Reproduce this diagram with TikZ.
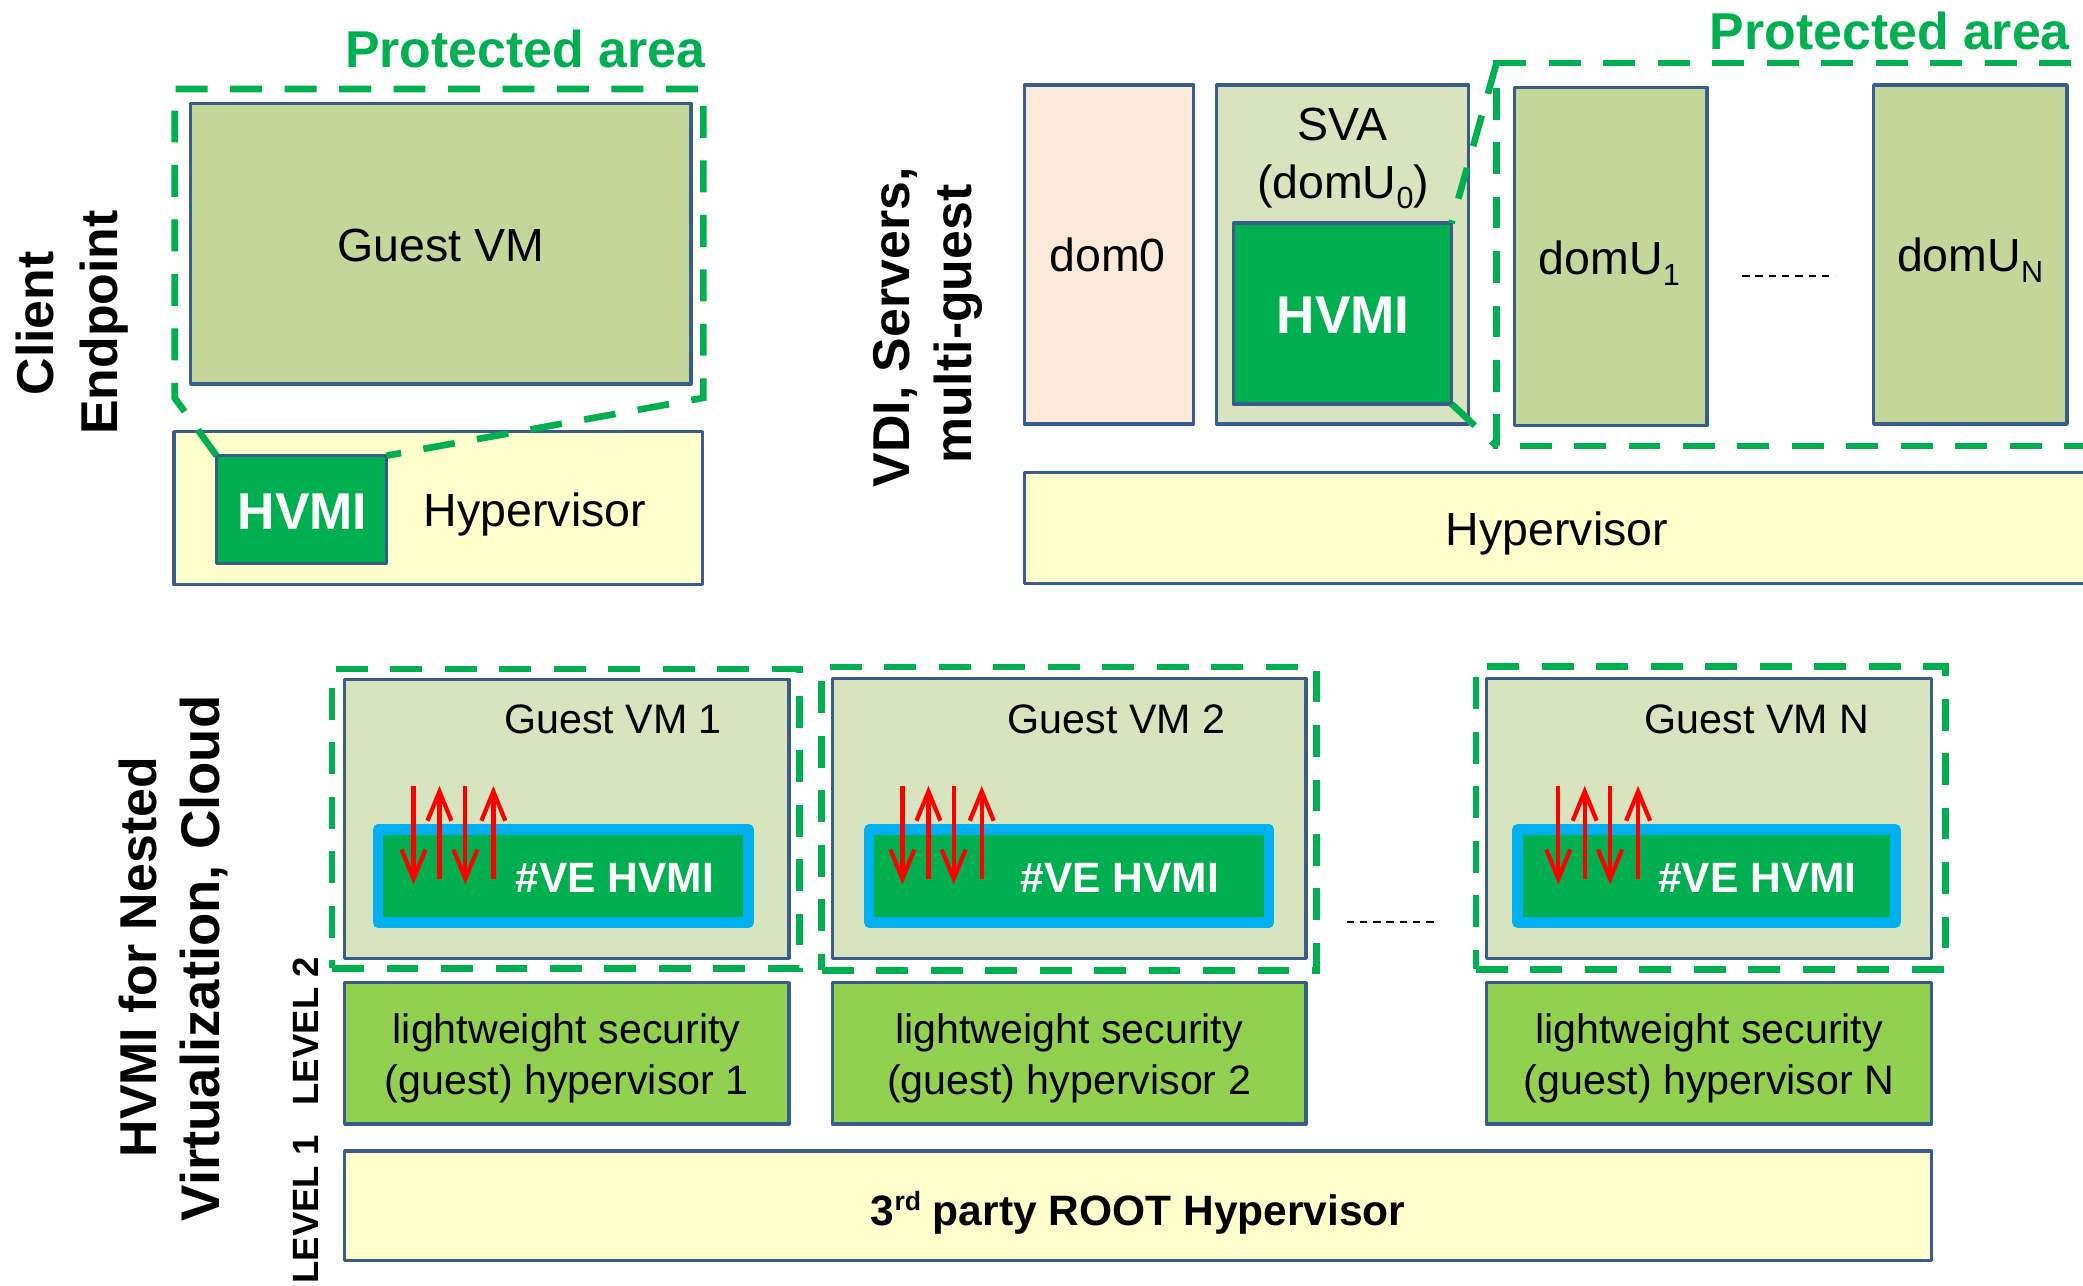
\documentclass[tikz,border=0pt]{standalone}
\usepackage{fontspec}
\setmainfont{Liberation Sans}
\usetikzlibrary{arrows.meta,fit}

\definecolor{edge}{HTML}{385D8A}
\definecolor{hvgreen}{HTML}{00B050}
\definecolor{olive}{HTML}{C4D79B}
\definecolor{palegreen}{HTML}{D7E4BD}
\definecolor{peach}{HTML}{FDE9D9}
\definecolor{cream}{HTML}{FFFFCC}
\definecolor{lime}{HTML}{92D050}
\definecolor{skyblue}{HTML}{00B0F0}

\newcommand\fsz[2]{\fontsize{#1}{#2}\selectfont}
\newcommand\lowsub[1]{\raisebox{-8pt}{\fsz{23}{23}#1}}
\newcommand\highsup[1]{\raisebox{11pt}{\fsz{20}{20}#1}}

% four red exchange arrows above a #VE HVMI bar: down, up, down, up
\newcommand\vearrows[5]{%
  \foreach \xx/\yy/\zz [count=\k] in {#2/591.6/665.8,#3/661.8/591.6,#4/591.6/665.8,#5/661.8/591.6}{%
    \coordinate (#1s\k) at (\xx,\yy);
    \coordinate (#1e\k) at (\xx,\zz);
    \draw[arr] (#1s\k) -- (#1e\k);
  }}

\begin{document}
\begin{tikzpicture}[x=1pt,y=-1pt,
  box/.style={draw=edge,line width=2.6pt,line join=round,inner sep=0pt,outer sep=0pt},
  prot/.style={draw=hvgreen,line width=5pt,dash pattern=on 24pt off 17pt,inner sep=0pt,outer sep=0pt},
  vebar/.style={draw=skyblue,fill=hvgreen,line width=7.9pt,line join=round,inner sep=0pt,outer sep=0pt},
  txt/.style={inner sep=0pt,outer sep=0pt,anchor=base,text=black},
  regular/.style={txt,font=\fsz{35}{42}},
  boldwhite/.style={txt,text=white,font=\bfseries\fsz{39}{47}},
  sidelabel/.style={txt,rotate=90,font=\bfseries\fsz{39}{47}},
  protlabel/.style={txt,anchor=base east,text=hvgreen,font=\bfseries\fsz{39}{47}},
  arr/.style={draw=red,line width=3.2pt,-{Straight Barb[length=22pt,width=18pt]}},
  gapdash/.style={draw=black,line width=1.5pt,dash pattern=on 5.6pt off 4.4pt}
]
\useasboundingbox (0,0) rectangle (1568,968);
\fill[white] (0,0) rectangle (1568,968);
\clip (0,0) rectangle (1568,968);

% ---------------- Client endpoint ----------------
\node[sidelabel] (clientA) at (39.9,243.4) {Client};
\node[sidelabel] (clientB) at (88.5,242.8) {Endpoint};

\node[box,fill=olive,fit={(143.5,78) (520,289)}] (guestA) {};
\node[regular] (guestAtxt) at (332,197) {Guest VM};
\node[box,fill=cream,fit={(131,325) (529,440)}] (hypA) {};
\node[box,fill=hvgreen,fit={(163,343) (291,424)}] (hvmiA) {};
\node[boldwhite] (hvmiAtxt) at (227.8,398.8) {HVMI};
\node[regular,anchor=base west] (hypAtxt) at (319,396.5) {Hypervisor};

\coordinate (paBL) at (131.5,299.5);
\coordinate (paTL) at (131.5,67);
\coordinate (paTR) at (529.5,67);
\coordinate (paBR) at (529.5,299.5);
\draw[prot,line join=miter] (hvmiA.north west) -- (paBL) -- (paTL) -- (paTR) -- (paBR) -- (hvmiA.north east);
\node[protlabel] (protA) at (530.7,50.6) {Protected area};

% ---------------- VDI / servers ----------------
\node[sidelabel] (vdiA) at (684.3,246.4) {VDI, Servers,};
\node[sidelabel] (vdiB) at (731.5,244) {multi-guest};

\node[box,fill=peach,fit={(771,64) (898.4,319.2)}] (dom0) {};
\node[regular] (dom0txt) at (833.7,204.5) {dom0};
\node[box,fill=palegreen,fit={(915.7,64) (1105.6,319.2)}] (sva) {};
\node[regular] (svatxt) at (1010.6,106) {SVA};
\node[regular] (svadom) at (1011,149.2) {(domU\lowsub{0})};
\node[box,fill=hvgreen,fit={(928.6,168) (1092.6,304)}] (hvmiB) {};
\node[boldwhite,font=\bfseries\fsz{40}{48}] (hvmiBtxt) at (1011,251.2) {HVMI};

\node[box,fill=olive,fit={(1140,65.7) (1285,320.4)}] (domU1) {};
\node[regular] (domU1txt) at (1211.5,206.8) {domU\lowsub{1}};
\node[box,fill=olive,fit={(1410.4,64) (1556,319.2)}] (domUN) {};
\node[regular] (domUNtxt) at (1483,204.5) {domU\lowsub{N}};
\coordinate (gapA1) at (1311.4,207.4);
\coordinate (gapA2) at (1381.4,207.4);
\draw[gapdash] (gapA1) -- (gapA2);

\node[box,fill=cream,fit={(771,355.8) (1600,439.4)}] (hypB) {};
\node[regular] (hypBtxt) at (1172,410.6) {Hypervisor};

\coordinate (pbTL) at (1126.5,47.5);
\coordinate (pbTR) at (1600,47.5);
\coordinate (pbBL) at (1126.5,335.6);
\coordinate (pbBR) at (1600,335.6);
\draw[prot] (pbTR) -- (pbTL) -- (pbBL) -- (pbBR);
\draw[prot] (pbTL) -- (hvmiB.north east);
\draw[prot] (hvmiB.south east) -- (pbBL);
\node[protlabel] (protB) at (1558,37.5) {Protected area};

% ---------------- Nested virtualization ----------------
\node[sidelabel] (nestA) at (118,720.6) {HVMI for Nested};
\node[sidelabel,font=\bfseries\fsz{41}{49}] (nestB) at (165.6,721.4) {Virtualization, Cloud};
\node[txt,rotate=90,font=\bfseries\fsz{27.5}{33}] (lvl2) at (240,776.3) {LEVEL 2};
\node[txt,rotate=90,font=\bfseries\fsz{27.5}{33}] (lvl1) at (240,910.5) {LEVEL 1};

% guest 1
\node[box,fill=palegreen,fit={(259.5,511.3) (593.8,721.4)}] (vm1) {};
\node[txt,font=\fsz{31}{37}] (vm1txt) at (461.5,552) {Guest VM 1};
\node[vebar,fit={(284.5,624.5) (563.5,694.5)}] (ve1) {};
\node[txt,text=white,font=\bfseries\fsz{32}{38}] (ve1txt) at (462.8,671.5) {\#VE HVMI};
\vearrows{a}{311.3}{330.8}{350.3}{371.4}
\node[prot,fit={(250,503.6) (601.7,729)}] (prot1) {};

% guest 2
\node[box,fill=palegreen,fit={(626.6,510.7) (983,721.4)}] (vm2) {};
\node[txt,font=\fsz{31}{37}] (vm2txt) at (840.4,552) {Guest VM 2};
\node[vebar,fit={(654.2,624.5) (955.3,694.5)}] (ve2) {};
\node[txt,text=white,font=\bfseries\fsz{32}{38}] (ve2txt) at (843,671.5) {\#VE HVMI};
\vearrows{b}{679.3}{698.9}{717.9}{739}
\node[prot,fit={(618.6,502) (990.9,730.5)}] (prot2) {};

% guest N
\node[box,fill=palegreen,fit={(1118.9,510.7) (1454.1,721.4)}] (vmN) {};
\node[txt,font=\fsz{31}{37}] (vmNtxt) at (1322.6,552) {Guest VM N};
\node[vebar,fit={(1142.3,624.5) (1426.9,694.5)}] (veN) {};
\node[txt,text=white,font=\bfseries\fsz{32}{38}] (veNtxt) at (1323,671.5) {\#VE HVMI};
\vearrows{c}{1173}{1192.9}{1212}{1233.1}
\node[prot,fit={(1111,501.5) (1464.3,729.6)}] (protN) {};

\coordinate (gapB1) at (1013.6,693.9);
\coordinate (gapB2) at (1083.1,693.9);
\draw[gapdash] (gapB1) -- (gapB2);

% lightweight guest hypervisors (level 2)
\node[box,fill=lime,fit={(259.5,739.7) (593.8,846)}] (lw1) {};
\node[txt,align=center,font=\fsz{31}{38}] (lw1txt) at (426.6,823.6) {lightweight security\\(guest) hypervisor 1};
\node[box,fill=lime,fit={(626.6,739.7) (983,846)}] (lw2) {};
\node[txt,align=center,font=\fsz{31}{38}] (lw2txt) at (804.8,823.6) {lightweight security\\(guest) hypervisor 2};
\node[box,fill=lime,fit={(1118.9,739.7) (1454.1,846)}] (lwN) {};
\node[txt,align=center,font=\fsz{31}{38}] (lwNtxt) at (1286.5,823.6) {lightweight security\\(guest) hypervisor N};

% root hypervisor (level 1)
\node[box,fill=cream,fit={(259.5,866.5) (1454.1,948.8)}] (root) {};
\node[txt,font=\bfseries\fsz{32}{38}] (roottxt) at (856.8,922.2) {3\highsup{rd} party ROOT Hypervisor};
\end{tikzpicture}
\end{document}
